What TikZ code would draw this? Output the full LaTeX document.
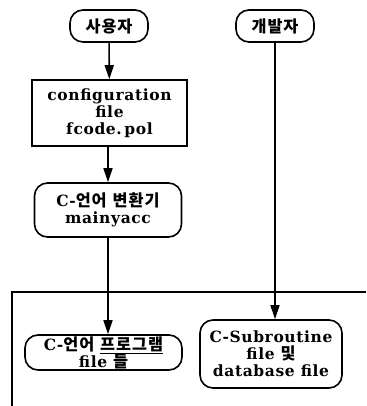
\documentclass[tikz,border=0pt]{standalone}
\usepackage{fontspec}
\setmainfont{DejaVu Serif}[LetterSpace=4]
\newfontfamily\kr{Noto Sans CJK KR}[LetterSpace=6,Scale=1.05]
\newcommand{\ko}[1]{{\kr\bfseries #1}}
\usetikzlibrary{arrows.meta}

\tikzset{
  box/.style={draw,line width=1.6pt,align=center,inner sep=0pt,
    font=\fontsize{15.5}{17}\selectfont\bfseries},
  term/.style={box,rounded corners=13pt},
  flow/.style={line width=1.6pt,-{Triangle[length=14pt,width=9pt]}}
}

\begin{document}
\begin{tikzpicture}[x=1pt,y=-1pt]
  \useasboundingbox (0,0) rectangle (366,406);
  % top row
  \node[term,minimum width=78pt,minimum height=32pt] (user) at (109,26) {\ko{사용자}};
  \node[term,minimum width=78pt,minimum height=32pt] (dev) at (275,26) {\ko{개발자}};
  % left column
  \node[box,minimum width=155pt,minimum height=66pt] (conf) at (109.5,113)
    {configuration\\file\\fcode.\,pol};
  \node[term,minimum width=147pt,minimum height=54pt] (conv) at (108,210)
    {C-\ko{언어}\ \ko{변환기}\\mainyacc};
  \node[term,minimum width=157pt,minimum height=35pt] (prog) at (103.5,352.5)
    {C-\ko{언어}\ \underline{\ko{프로그램}}\\file \ko{들}};
  % right column
  \node[term,minimum width=142pt,minimum height=68pt] (sub) at (271,354)
    {C-Subroutine\\file \ko{및}\\database file};
  % frame
  \draw[line width=1.3pt] (366,292) -- (12,292) -- (12,406);
  % connectors
  \draw[flow] (user) -- (conf);
  \draw[flow] (conf.south -| conv.north) -- (conv);
  \draw[flow] (conv.south) -- (conv.south |- prog.north);
  \draw[flow] (dev.south) -- (dev.south |- sub.north);
\end{tikzpicture}
\end{document}
